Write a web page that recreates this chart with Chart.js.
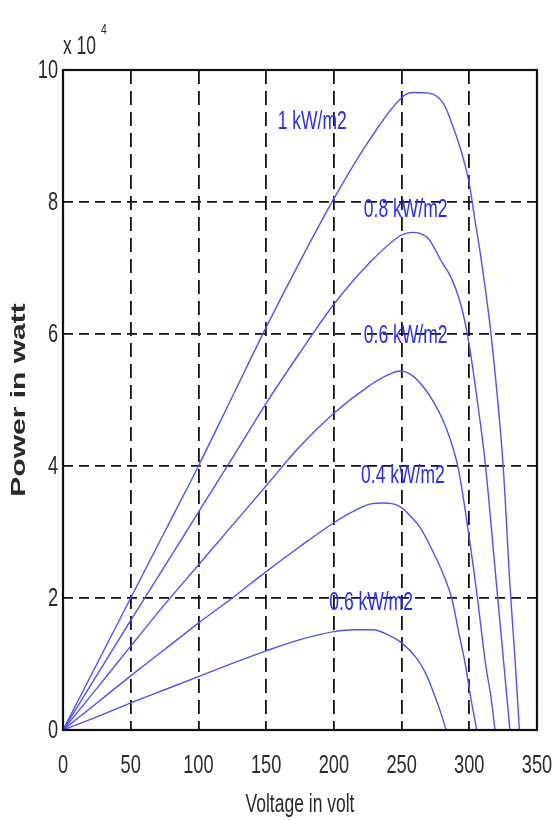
<!DOCTYPE html>
<html>
<head>
<meta charset="utf-8">
<script src="https://cdn.jsdelivr.net/npm/chart.js@4.4.1/dist/chart.umd.min.js"></script>
<style>
  html,body{margin:0;padding:0;background:#fff;}
  #wrap{width:552px;height:820px;position:relative;}
</style>
</head>
<body>
<div id="wrap"><canvas id="chart" width="552" height="820"></canvas></div>
<script>
// PV power vs voltage, power in units of 1e4 W
const voltage1 = [0,25,50,75,100,125,150,175,200,225,250,258,270,281,288,295,300,304,309,316,325,330,334,337];
const power1   = [0,1.0,2.0,3.0,4.0,5.05,6.1,7.1,8.05,8.9,9.58,9.66,9.65,9.49,9.14,8.7,8.28,7.75,7.1,6.0,4.0,2.2,1.0,0];

const voltage08 = [0,25,50,75,100,125,150,175,200,225,250,258,264,270,280,286,293,299,306,312,317,321,325.5,330];
const power08   = [0,0.83,1.66,2.48,3.3,4.12,4.95,5.72,6.45,7.05,7.5,7.54,7.52,7.44,7.08,6.88,6.5,5.95,4.98,4.0,2.9,2.0,1.0,0];

const voltage06 = [0,25,50,75,100,125,150,175,200,225,240,249,258,266,273,280,286,292,299,306,312,316,319];
const power06   = [0,0.63,1.27,1.9,2.5,3.1,3.7,4.3,4.8,5.2,5.38,5.44,5.37,5.2,4.99,4.72,4.4,3.95,3.05,2.0,1.0,0.5,0];

const voltage04 = [0,25,50,75,100,125,150,175,200,215,228,236,243,250,257,264,273,281,287,292,297,301,305.5];
const power04   = [0,0.41,0.82,1.22,1.62,2.0,2.4,2.78,3.14,3.32,3.43,3.44,3.43,3.37,3.23,3.06,2.71,2.35,2.0,1.5,1.0,0.5,0];

const voltage02 = [0,25,50,75,100,125,150,175,200,215,229,240,250,261,268,273,278,283];
const power02   = [0,0.2,0.41,0.61,0.81,1.01,1.2,1.37,1.49,1.52,1.52,1.44,1.32,1.09,0.85,0.6,0.32,0];

// curve annotations (as printed in the figure)
const curveLabels = ['1 kW/m2','0.8 kW/m2','0.6 kW/m2','0.4 kW/m2','0.6 kW/m2'];
const curveLabelV = [184,253,253,251,227.5];
const curveLabelP = [9.21,7.87,5.97,3.85,1.92];

const xTicks = [0,50,100,150,200,250,300,350];
const yTicks = [0,2,4,6,8,10];

const pts = (xs,ys)=>xs.map((x,i)=>({x,y:ys[i]}));
const lineColor = 'rgb(80,80,255)';
const mk = (label,xs,ys)=>({label,data:pts(xs,ys),borderColor:lineColor,borderWidth:1.4,
  pointRadius:0,fill:false,cubicInterpolationMode:'monotone'});

// condensed text helper (the figure text is narrow and tall)
function txt(ctx,s,x,y,font,align,base,sx,rot){
  ctx.save();
  ctx.translate(x,y);
  ctx.scale(sx,1);
  if(rot) ctx.rotate(rot);
  ctx.font = font;
  ctx.textAlign = align;
  ctx.textBaseline = base;
  ctx.fillText(s,0,0);
  ctx.restore();
}

const decor = {
  id:'decor',
  afterDatasetsDraw(chart){
    const {ctx,chartArea:a,scales:{x,y}} = chart;
    // frame
    ctx.save();
    ctx.strokeStyle='#111';ctx.lineWidth=2.2;
    ctx.strokeRect(a.left,a.top,a.right-a.left,a.bottom-a.top);
    ctx.restore();

    ctx.save();
    ctx.fillStyle='#2a2a2a';
    const F = '26px "Liberation Sans", Arial, sans-serif';
    xTicks.forEach(v=>txt(ctx,String(v),x.getPixelForValue(v),773,F,'center','alphabetic',0.7));
    yTicks.forEach(v=>txt(ctx,String(v),a.left-5,y.getPixelForValue(v)+1,F,'right','middle',0.7));
    // exponent
    txt(ctx,'x 10',a.left,54,'25px "Liberation Sans", Arial, sans-serif','left','alphabetic',0.7);
    txt(ctx,'4',a.left+38,34,'15px "Liberation Sans", Arial, sans-serif','left','alphabetic',0.7);
    // axis titles
    txt(ctx,'Voltage in volt',(a.left+a.right)/2,812,'25px "Liberation Sans", Arial, sans-serif','center','alphabetic',0.7);
    txt(ctx,'Power in watt',19,400,'bold 30px "Liberation Sans", Arial, sans-serif','center','middle',0.7,-Math.PI/2);

    // curve labels
    ctx.fillStyle='#2b2bff';
    curveLabels.forEach((s,i)=>txt(ctx,s,x.getPixelForValue(curveLabelV[i]),y.getPixelForValue(curveLabelP[i]),
      '25px "Liberation Sans", Arial, sans-serif','center','middle',0.7));
    ctx.restore();
  }
};

new Chart(document.getElementById('chart'),{
  type:'line',
  data:{datasets:[
    mk('1 kW/m2',voltage1,power1),
    mk('0.8 kW/m2',voltage08,power08),
    mk('0.6 kW/m2',voltage06,power06),
    mk('0.4 kW/m2',voltage04,power04),
    mk('0.2 kW/m2',voltage02,power02)
  ]},
  options:{
    responsive:false,animation:false,
    layout:{padding:{left:0,top:70,right:15,bottom:0}},
    plugins:{legend:{display:false},tooltip:{enabled:false}},
    scales:{
      x:{type:'linear',min:0,max:350,
        afterBuildTicks:s=>{s.ticks=xTicks.map(v=>({value:v}));},
        ticks:{display:false},
        grid:{color:'#111',lineWidth:1.8,drawTicks:false},
        border:{display:false,dash:[14,7]},
        afterFit:s=>{s.height=90;}},
      y:{type:'linear',min:0,max:10,
        afterBuildTicks:s=>{s.ticks=yTicks.map(v=>({value:v}));},
        ticks:{display:false},
        grid:{color:'#111',lineWidth:1.8,drawTicks:false},
        border:{display:false,dash:[10,6]},
        afterFit:s=>{s.width=63;}}
    }
  },
  plugins:[decor]
});
</script>
</body>
</html>
